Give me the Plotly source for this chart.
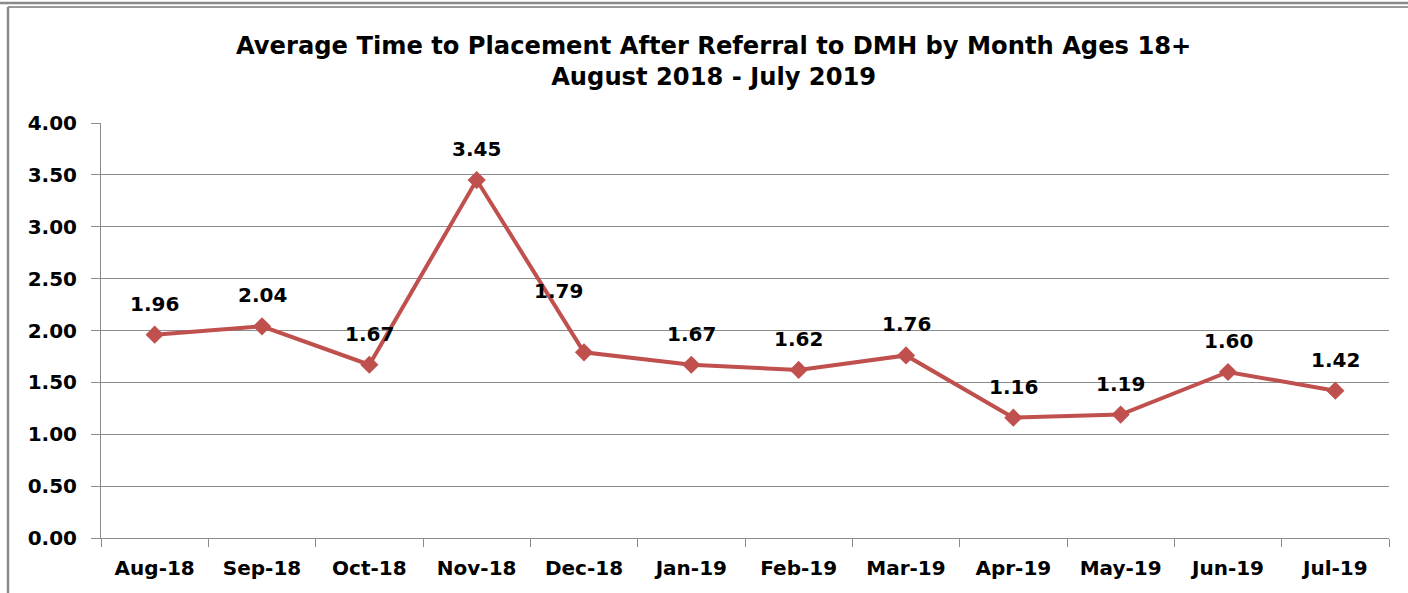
import plotly.graph_objects as go

months = ["Aug-18", "Sep-18", "Oct-18", "Nov-18", "Dec-18", "Jan-19",
          "Feb-19", "Mar-19", "Apr-19", "May-19", "Jun-19", "Jul-19"]
avg_days = [1.96, 2.04, 1.67, 3.45, 1.79, 1.67, 1.62, 1.76, 1.16, 1.19, 1.60, 1.42]
y_ticks = [0, 0.5, 1.0, 1.5, 2.0, 2.5, 3.0, 3.5, 4.0]

title_text = ("Average Time to Placement After Referral to DMH by Month Ages 18+"
              "<br>August 2018 - July 2019")

RED = "#C0504D"
GRID = "#8c8c8c"
LABEL_FONT = dict(family="DejaVu Sans", size=20, color="#000000", weight="bold")

W, H = 1408, 593
ML, MR, MT, MB = 101, 19, 123, 55
PW, PH = W - ML - MR, H - MT - MB

def px_x(p):
    return (p - ML) / PW

def px_y(p):
    return (H - MB - p) / PH

fig = go.Figure()
fig.add_trace(go.Scatter(
    x=months, y=avg_days, mode="lines+markers",
    line=dict(color=RED, width=4),
    marker=dict(symbol="diamond", size=14, color=RED),
    hoverinfo="skip", showlegend=False,
))

for m, v in zip(months, avg_days):
    xs, ys = 0, 31
    if m == "Dec-18":
        xs, ys = -26, 61
    fig.add_annotation(x=m, y=v, text=f"{v:.2f}", showarrow=False,
                       xshift=xs, yshift=ys, yanchor="middle",
                       font=LABEL_FONT)

fig.add_annotation(xref="paper", yref="paper", x=px_x(713), y=px_y(61),
                   text=title_text, showarrow=False, xanchor="center",
                   yanchor="middle", align="center",
                   font=dict(family="DejaVu Sans", size=24.2, color="#000000",
                             weight="bold"))

frame = "#8a8a8a"
fig.add_shape(type="line", xref="paper", yref="paper",
              x0=px_x(0), x1=px_x(W), y0=px_y(3), y1=px_y(3),
              line=dict(color=frame, width=2.5))
fig.add_shape(type="line", xref="paper", yref="paper",
              x0=px_x(8), x1=px_x(W), y0=px_y(7), y1=px_y(7),
              line=dict(color="#9a9a9a", width=2))
fig.add_shape(type="line", xref="paper", yref="paper",
              x0=px_x(8), x1=px_x(8), y0=px_y(7), y1=px_y(H),
              line=dict(color=frame, width=2.5))

fig.update_layout(
    width=W, height=H,
    margin=dict(l=ML, r=MR, t=MT, b=MB, pad=0),
    paper_bgcolor="white", plot_bgcolor="white",
    font=LABEL_FONT,
    xaxis=dict(type="category", showgrid=False, showline=True,
               linecolor=GRID, linewidth=1, ticks="outside",
               tickson="boundaries", ticklen=8, tickcolor=GRID,
               tickfont=LABEL_FONT, ticklabelstandoff=12,
               range=[-0.5, len(months) - 0.5], fixedrange=True),
    yaxis=dict(range=[0, 4], tickvals=y_ticks,
               ticktext=[f"{t:.2f}" for t in y_ticks],
               showgrid=True, gridcolor=GRID, gridwidth=1,
               showline=True, linecolor=GRID, linewidth=1,
               ticks="outside", ticklen=9, tickcolor=GRID,
               tickfont=LABEL_FONT, ticklabelstandoff=10,
               zeroline=False, fixedrange=True),
)

fig.write_html("out.html", config={"displayModeBar": False},
               post_script="document.body.style.margin='0';")
